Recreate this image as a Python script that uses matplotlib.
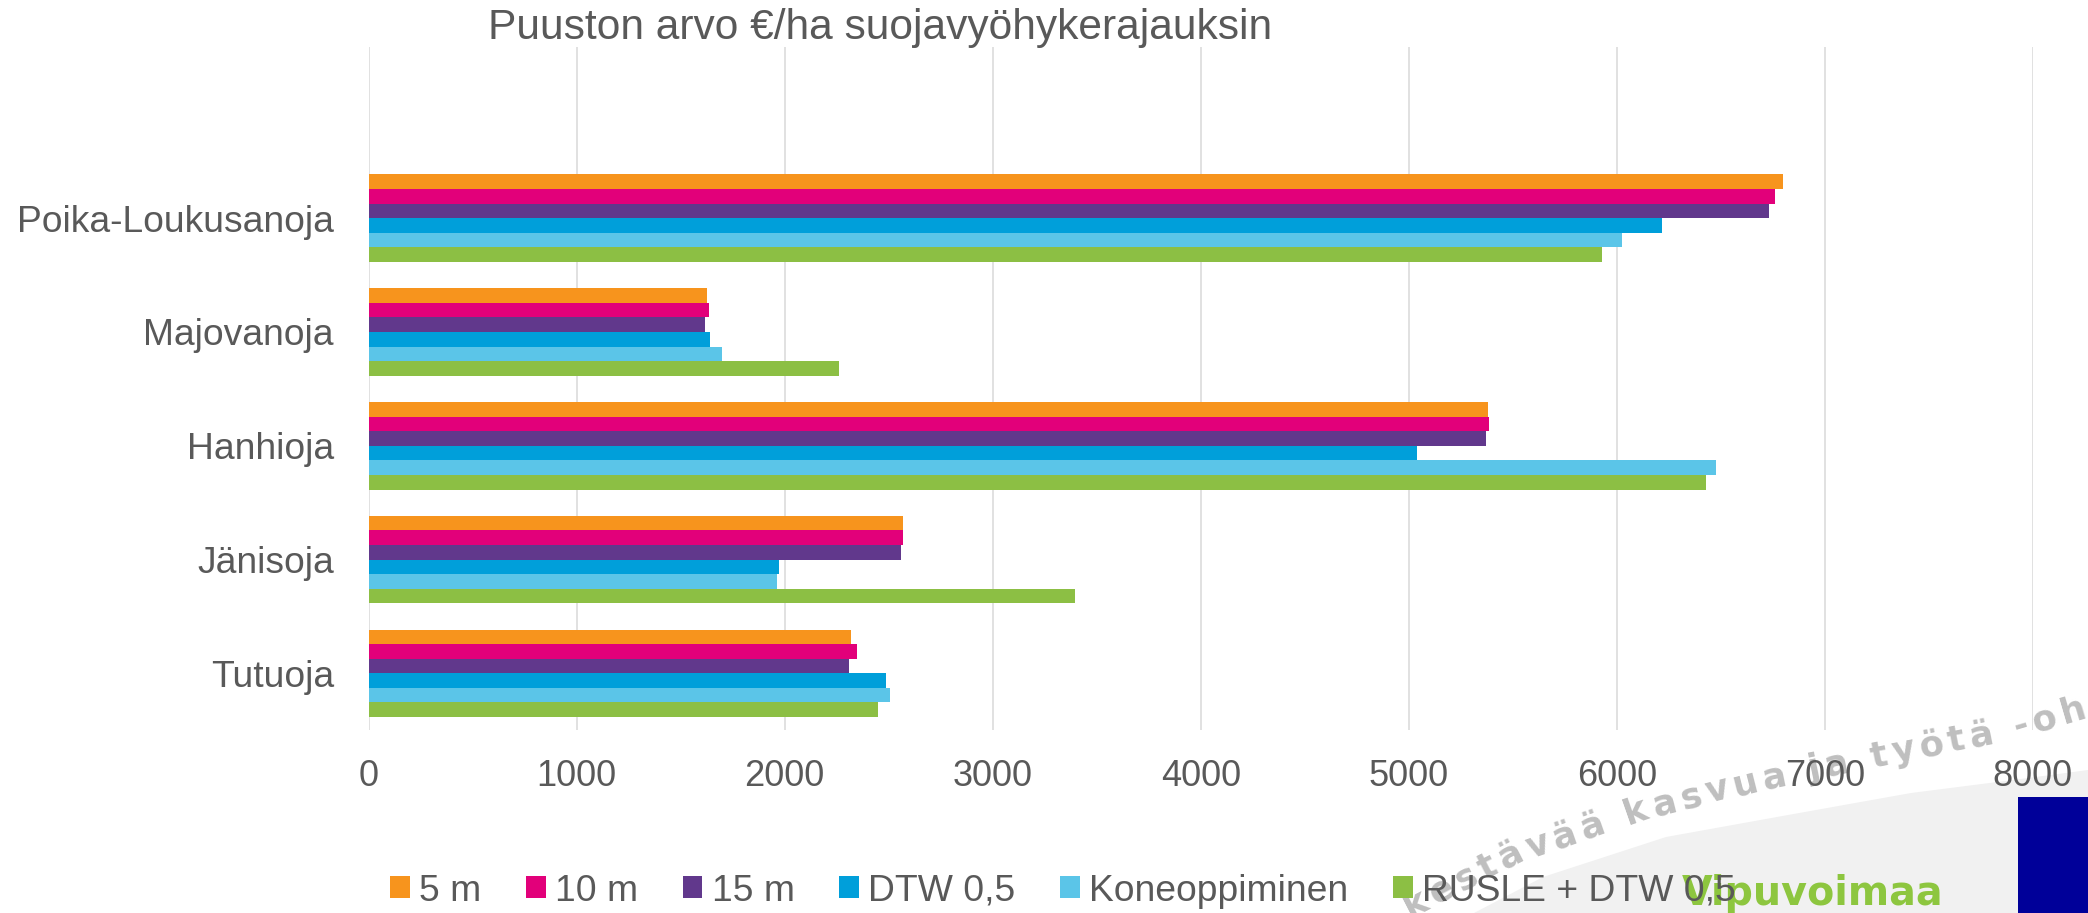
import numpy as np
import matplotlib
matplotlib.use("Agg")
import matplotlib.pyplot as plt
from matplotlib.patches import Rectangle, Polygon
from matplotlib.font_manager import FontProperties

# ---------------- data ----------------
categories = ["Poika-Loukusanoja", "Majovanoja", "Hanhioja", "Jänisoja", "Tutuoja"]
series_names = ["5 m", "10 m", "15 m", "DTW 0,5", "Koneoppiminen", "RUSLE + DTW 0,5"]
v_5m = [6800, 1625, 5382, 2567, 2318]
v_10m = [6762, 1638, 5387, 2571, 2346]
v_15m = [6734, 1615, 5373, 2558, 2309]
v_dtw = [6219, 1642, 5042, 1973, 2489]
v_kone = [6026, 1697, 6477, 1964, 2507]
v_rusle = [5929, 2259, 6431, 3395, 2447]
series_values = [v_5m, v_10m, v_15m, v_dtw, v_kone, v_rusle]
colors = ["#F7941D", "#E2007A", "#61388C", "#009FDA", "#5BC5E8", "#8CBF44"]
x_ticks = [0, 1000, 2000, 3000, 4000, 5000, 6000, 7000, 8000]
title = "Puuston arvo €/ha suojavyöhykerajauksin"
watermark = "kestävää kasvua ja työtä -ohjelma"
logo = "Vipuvoimaa"

W, H = 2088, 913
TXT = "#595959"
plt.rcParams['font.family'] = ['Liberation Sans', 'DejaVu Sans']

fig = plt.figure(figsize=(W / 100, H / 100), dpi=100)
renderer = fig.canvas.get_renderer()

def fx(px):
    return px / W

def fy(py):
    return 1 - py / H

# ---------------- slide decorations ----------------
swoosh = [(1474, 913), (1543, 877), (1666, 837), (1788, 815), (1911, 793), (2013, 780),
          (2088, 770), (2088, 913)]
fig.patches.append(Polygon([(fx(x), fy(y)) for x, y in swoosh], closed=True,
                           transform=fig.transFigure, facecolor="#F1F1F1",
                           edgecolor="none", zorder=0))
fig.patches.append(Rectangle((fx(2018), 0), fx(2088) - fx(2018), fy(797), transform=fig.transFigure,
                             facecolor="#000099", edgecolor="none", zorder=1))

# watermark text, letter by letter along a curved baseline
wm_prop = FontProperties(family="DejaVu Sans", weight="bold", size=25.5)
base = np.array([(1410, 918), (1515, 864), (1635, 822), (1753, 792), (1880, 766),
                 (2007, 741), (2130, 705)], float)
seg = np.diff(base, axis=0)
seglen = np.hypot(seg[:, 0], seg[:, 1])
cum = np.concatenate([[0], np.cumsum(seglen)])
track = 5.0

def char_w(ch):
    if ch == " ":
        w1 = renderer.get_text_width_height_descent("a a", wm_prop, ismath=False)[0]
        w2 = renderer.get_text_width_height_descent("aa", wm_prop, ismath=False)[0]
        return w1 - w2
    return renderer.get_text_width_height_descent(ch, wm_prop, ismath=False)[0]

s = 0.0
for ch in watermark:
    if s >= cum[-1]:
        break
    k = min(np.searchsorted(cum, s, side="right") - 1, len(seg) - 1)
    t = (s - cum[k]) / seglen[k]
    px, py = base[k] + t * seg[k]
    ang = np.degrees(np.arctan2(-seg[k][1], seg[k][0]))
    if ch != " ":
        fig.text(fx(px), fy(py), ch, fontproperties=wm_prop, color="#BFBFBF",
                 rotation=ang, rotation_mode="anchor", ha="left", va="baseline", zorder=2)
    s += char_w(ch) + track

# logo text
fig.text(fx(1682), fy(905), logo, family="DejaVu Sans", weight="heavy", fontsize=28.5,
         color="#8DC63F", ha="left", va="baseline", zorder=3)

# ---------------- chart ----------------
left, right, top, bottom = 368.7, 2032.7, 47.5, 730.2
ax = fig.add_axes([fx(left), fy(bottom), fx(right) - fx(left), fy(top) - fy(bottom)], zorder=5)
ax.set_facecolor("none")

n_cat = len(categories)
ypos = np.arange(n_cat)[::-1].astype(float)
group = 1 / 1.3
h = group / len(series_names)
bars = []
for i, (name, vals, col) in enumerate(zip(series_names, series_values, colors)):
    b = ax.barh(ypos + (2.5 - i) * h, vals, height=h, color=col, label=name, zorder=3,
                edgecolor="none")
    bars.append(b)

ax.set_xlim(0, 8000)
ax.set_ylim(-0.5, n_cat + 0.5)
ax.set_xticks(x_ticks)
ax.set_xticklabels([str(v) for v in x_ticks])
ax.set_yticks(ypos)
ax.set_yticklabels(categories)
ax.tick_params(axis="x", length=0, pad=21, labelsize=26, labelcolor=TXT)
ax.tick_params(axis="y", length=0, pad=25, labelsize=26.8, labelcolor=TXT)
ax.grid(axis="x", color="#D9D9D9", linewidth=1.1, zorder=0)
ax.set_axisbelow(True)
for sp in ax.spines.values():
    sp.set_visible(False)

# title
fig.text(fx(487.6), fy(39.3), title, fontsize=30.6, color=TXT, ha="left", va="baseline", zorder=6)

# legend
leg = fig.legend(handles=bars, labels=series_names, ncol=6, frameon=False, fontsize=26.8,
                 loc="center", bbox_to_anchor=(fx(1063), fy(891)),
                 handlelength=0.53, handleheight=0.53, handletextpad=0.25,
                 columnspacing=1.2, borderpad=0, borderaxespad=0)
for t in leg.get_texts():
    t.set_color(TXT)
leg.set_zorder(7)

fig.savefig("out.png", dpi=100)
